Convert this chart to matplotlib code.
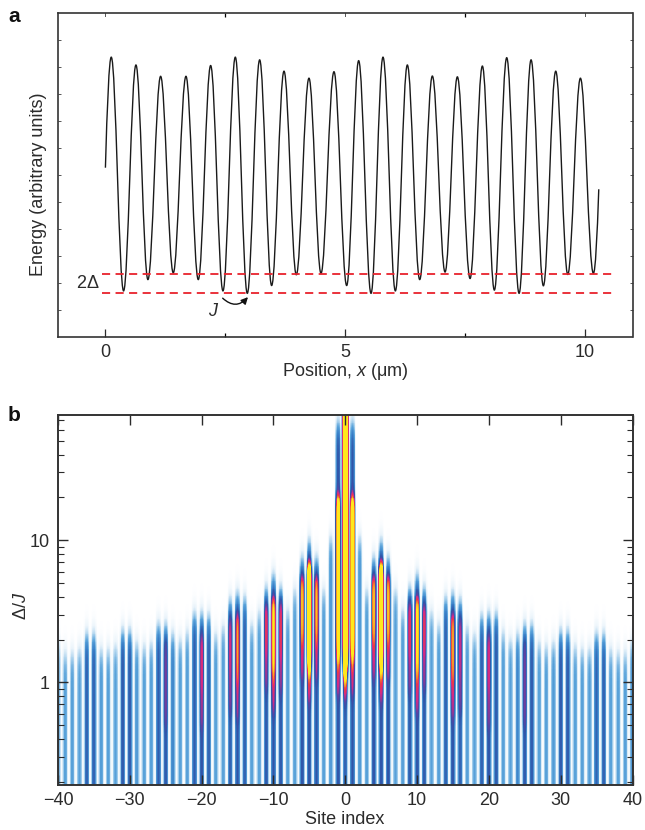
import numpy as np
import matplotlib
matplotlib.use("Agg")
import matplotlib.pyplot as plt
import matplotlib.colors as mcolors
from matplotlib.path import Path
from matplotlib.patches import PathPatch
from matplotlib.ticker import NullFormatter, FixedLocator, FixedFormatter

plt.rcParams["font.family"] = ["Liberation Sans", "DejaVu Sans"]
plt.rcParams["mathtext.fontset"] = "custom"
plt.rcParams["mathtext.it"] = "Liberation Sans:italic"
plt.rcParams["mathtext.rm"] = "Liberation Sans"

TEXT = "#2b2b2b"

# ── panel a: extrema of the potential ──
extrema_x = [0.000, 0.122, 0.379, 0.637, 0.887, 1.152, 1.416, 1.681, 1.938, 2.196, 2.453,
             2.711, 2.961, 3.219, 3.469, 3.727, 3.984, 4.248, 4.499, 4.770, 5.035, 5.285,
             5.543, 5.793, 6.051, 6.301, 6.559, 6.823, 7.088, 7.345, 7.610, 7.867, 8.117,
             8.375, 8.633, 8.883, 9.140, 9.398, 9.649, 9.913, 10.184, 10.296]
extrema_y = [6.28, 10.38, 1.71, 10.09, 2.13, 9.67, 2.38, 9.67, 2.13, 10.07, 1.71,
             10.38, 1.62, 10.28, 1.91, 9.86, 2.31, 9.60, 2.36, 9.84, 1.91, 10.25,
             1.62, 10.38, 1.71, 10.09, 2.13, 9.68, 2.41, 9.65, 2.17, 10.05, 1.74,
             10.36, 1.62, 10.28, 1.90, 9.86, 2.32, 9.60, 2.36, 5.48]
level_upper = 2.33
level_lower = 1.62
level_x = [-0.08, 10.57]

# ── panel b: per-site values for |site| = 0..40 ──
fade_top = [200, 70, 11, 4.7, 7.6, 10, 7.6, 4.7, 3.4, 4.7, 5.8, 4.7, 3.3, 2.7, 4.0, 4.3, 3.9,
            2.6, 2.3, 3.0, 3.1, 3.1, 2.4, 2.1, 2.3, 2.6, 2.6, 2.0, 1.9, 2.0, 2.35, 2.35,
            1.9, 1.8, 1.8, 2.25, 2.25, 1.8, 1.7, 1.7, 2.0]
base_amp = [.46, .50, .30, .28, .50, .50, .50, .28, .28, .48, .50, .48, .28, .28, .46, .50, .46,
            .28, .28, .46, .50, .48, .28, .28, .36, .48, .48, .28, .28, .30, .48, .48,
            .28, .28, .29, .46, .46, .28, .28, .28, .34]
hot_top = {0: 200, 1: 20, 4: 5.5, 5: 6.5, 6: 5.5, 9: 3.8, 10: 3.9, 11: 3.6, 15: 3.0, 16: 2.9, 20: 2.2, 25: 2.0}
hot_bottom = {0: 1.35, 1: 1.45, 4: 1.9, 5: 1.3, 6: 1.9, 9: 1.5, 10: 1.1, 11: 1.6, 15: 1.0, 16: 1.1, 20: 0.85, 25: 0.9}
hot_amp = {0: 4.5, 1: 1.3, 4: .95, 5: 1.9, 6: .95, 9: .76, 10: 1.05, 11: .76, 15: .9, 16: .70, 20: .72, 25: .62}

cmap_stops = [(0.0, "#ffffff"), (0.08, "#e9f3fa"), (0.18, "#a6cfec"), (0.27, "#5aa3da"),
              (0.38, "#3a80c8"), (0.50, "#2f55a8"), (0.60, "#5a43a2"), (0.70, "#d42a85"),
              (0.78, "#ea3a45"), (0.88, "#f59a25"), (1.0, "#ffe81c")]
site_cmap = mcolors.LinearSegmentedColormap.from_list("sites", cmap_stops)

fig = plt.figure(figsize=(6.45, 8.30), dpi=100)
W, H = 645.0, 830.0


def px_axes(left, top, right, bottom):
    return fig.add_axes([left / W, 1 - bottom / H, (right - left) / W, (bottom - top) / H])


# ── panel a ──
ax = px_axes(57.5, 13.5, 632.5, 337)
verts = [(extrema_x[0], extrema_y[0])]
codes = [Path.MOVETO]
for i in range(len(extrema_x) - 1):
    x0, y0, x1, y1 = extrema_x[i], extrema_y[i], extrema_x[i + 1], extrema_y[i + 1]
    dx = x1 - x0
    if i == 0:
        c1 = (x0 + 0.3 * dx, y0 + 0.55 * (y1 - y0))
    else:
        c1 = (x0 + 0.37 * dx, y0)
    if i == len(extrema_x) - 2:
        c2 = (x1 - 0.3 * dx, y1 - 0.55 * (y1 - y0))
    else:
        c2 = (x1 - 0.37 * dx, y1)
    verts += [c1, c2, (x1, y1)]
    codes += [Path.CURVE4] * 3
ax.add_patch(PathPatch(Path(verts, codes), fill=False, edgecolor="#1a1a1a", linewidth=1.0))

ax.plot(level_x, [level_upper] * 2, color="#e8222c", lw=1.3, dashes=(4.5, 3), zorder=3)
ax.plot(level_x, [level_lower] * 2, color="#e8222c", lw=1.3, dashes=(4.5, 3), zorder=3)

ax.set_xlim(-1.0, 11.0)
ax.set_ylim(0, 12)
ax.set_xticks([0, 5, 10])
ax.set_xticks([2.5, 7.5], minor=True)
ax.set_yticks(range(1, 12))
ax.set_yticklabels([])
ax.tick_params(axis="x", which="major", direction="in", length=6, width=0.9, top=False,
               labelsize=13, colors=TEXT, pad=5)
ax.tick_params(axis="x", which="minor", direction="in", length=3, width=0.9, top=True)
ax.tick_params(axis="y", direction="in", length=2, width=0.7, right=True, color="#555555")
for tx in [0, 5, 10]:
    ax.plot([tx, tx], [12, 11.9], color="#555555", lw=0.7)
for s in ax.spines.values():
    s.set_linewidth(1.2)
    s.set_color("#333333")

ax.annotate("", xy=(2.975, 1.48), xytext=(2.447, 1.44),
            arrowprops=dict(arrowstyle="-|>", color="#111111", lw=1.0,
                            connectionstyle="arc3,rad=0.5", mutation_scale=10,
                            shrinkA=0, shrinkB=0))

# ── panel b ──
ax2 = px_axes(58, 415, 632.5, 785)
y_fine = np.logspace(np.log10(0.19), np.log10(76), 420)
x_fine = np.linspace(-40, 40, 961)
sites = np.arange(-40, 41)
log_y = np.log10(y_fine)


def soft_below(edge, width):
    return 1 / (1 + np.exp((log_y - np.log10(edge)) / width))


amps = np.zeros((len(y_fine), len(sites)))
for j, site in enumerate(sites):
    k = abs(site)
    amp = base_amp[k] * soft_below(fade_top[k] * 0.92, 0.05)
    if k in hot_top:
        window = soft_below(hot_top[k], 0.03) * (1 - soft_below(hot_bottom[k], 0.05))
        amp = amp + (hot_amp[k] - base_amp[k]) * window
        # magenta tail running below the hot core
        tail = soft_below(hot_bottom[k], 0.05) * (1 - soft_below(hot_bottom[k] * 0.55, 0.03))
        amp = amp + max(0.70 - base_amp[k], 0) * tail * min(hot_amp[k], 1)
    amps[:, j] = amp

# flat-topped column shape across one site
profile = np.exp(-np.abs((x_fine[None, :] - sites[:, None]) / 0.34) ** 3)
image = amps @ profile
ax2.pcolormesh(x_fine, y_fine, image, cmap=site_cmap, vmin=0, vmax=1, shading="nearest", rasterized=True)

ax2.set_yscale("log")
ax2.set_xlim(-40, 40)
ax2.set_ylim(0.19, 76)
ax2.set_xticks(range(-40, 41, 10))
ax2.set_xticklabels(["\u221240", "\u221230", "\u221220", "\u221210", "0", "10", "20", "30", "40"])
ax2.yaxis.set_major_locator(FixedLocator([1, 10]))
ax2.yaxis.set_major_formatter(FixedFormatter(["1", "10"]))
ax2.yaxis.set_minor_locator(FixedLocator([.2, .3, .4, .5, .6, .7, .8, .9, 2, 3, 4, 5, 6, 7, 8, 9, 20, 30, 40, 50, 60, 70]))
ax2.yaxis.set_minor_formatter(NullFormatter())
ax2.tick_params(axis="x", direction="in", length=7, width=1.0, top=True, labelsize=13,
                colors=TEXT, pad=5)
ax2.tick_params(axis="y", which="major", direction="in", length=7, width=1.0, right=True,
                labelsize=13, colors=TEXT, pad=6)
ax2.tick_params(axis="y", which="minor", direction="in", length=4, width=0.8, right=True, color=TEXT)
for s in ax2.spines.values():
    s.set_linewidth(1.4)
    s.set_color("#333333")

# ── text ──
def put(px, py, txt, **kw):
    fig.text(px / W, 1 - py / H, txt, ha=kw.pop("ha", "center"), va=kw.pop("va", "center"),
             color=kw.pop("color", TEXT), **kw)


put(14.5, 16, "a", fontsize=15, fontweight="bold", color="#111111")
put(14.5, 415, "b", fontsize=15, fontweight="bold", color="#111111")
put(38.5, 184, "Energy (arbitrary units)", fontsize=13, rotation=90)
put(88, 284, r"2$\mathit{\Delta}$", fontsize=13)
put(214, 311, r"$\mathit{J}$", fontsize=13)
put(345, 371, r"Position, $\mathit{x}$ ($\mathregular{\mu}$m)", fontsize=13)
put(345, 819, "Site index", fontsize=13)
put(22, 606, r"$\mathit{\Delta}$/$\mathit{J}$", fontsize=13, rotation=90)

fig.savefig("out.png", dpi=100)
